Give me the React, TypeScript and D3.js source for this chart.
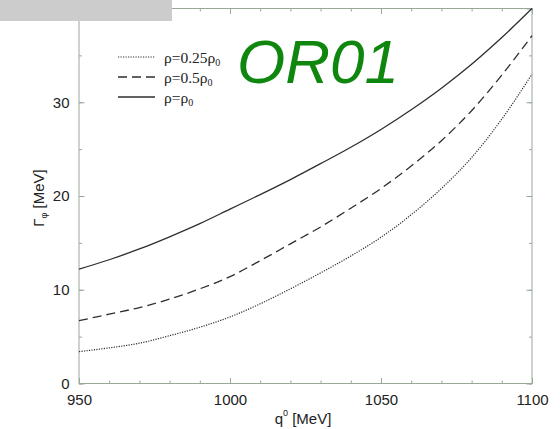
import * as d3 from "d3";
import { useEffect, useRef } from "react";

const qValues = [950, 960, 970, 980, 990, 1000, 1010, 1020, 1030, 1040, 1050, 1060, 1070, 1080, 1090, 1100];
const gammaRho025 = [3.4, 3.8, 4.3, 5.1, 6.0, 7.1, 8.5, 10.1, 11.8, 13.6, 15.6, 18.0, 20.8, 24.1, 28.2, 33.0];
const gammaRho05 = [6.7, 7.4, 8.1, 9.0, 10.1, 11.4, 13.1, 14.9, 16.7, 18.7, 20.8, 23.2, 25.9, 29.1, 32.9, 37.1];
const gammaRho0 = [12.2, 13.2, 14.35, 15.65, 17.05, 18.6, 20.15, 21.75, 23.45, 25.2, 27.1, 29.2, 31.5, 34.05, 36.9, 40.0];

const xMajor = [950, 1000, 1050, 1100];
const xMinor = d3.range(950, 1101, 10);
const yMajor = [0, 10, 20, 30, 40];
const yMinor = d3.range(0, 41, 5);

const legendLabels = [
  { main: "ρ=0.25ρ", sub: "0" },
  { main: "ρ=0.5ρ", sub: "0" },
  { main: "ρ=ρ", sub: "0" },
];
const dashStyles = ["1.2,1.3", "9,5", null];

const W = 560;
const H = 429;
const margin = { top: 8.5, bottom: 45.5, left: 79, right: 28 };
const axisColor = "#9aa89a";
const lineColor = "#2e2e2e";

const App = () => {
  const chartRef = useRef<SVGSVGElement | null>(null);

  useEffect(() => {
    const svg = d3.select(chartRef.current);
    svg.selectAll("*").remove();

    const x = d3.scaleLinear().domain([950, 1100]).range([margin.left, W - margin.right]);
    const y = d3.scaleLinear().domain([0, 40]).range([H - margin.bottom, margin.top]);
    const x0 = margin.left, x1 = W - margin.right;
    const y0 = H - margin.bottom, y1 = margin.top;

    const styleAxis = (g: any) => {
      g.select(".domain").remove();
      g.selectAll("line").attr("stroke", axisColor);
      g.selectAll("text")
        .attr("font-family", "'Liberation Sans', Arial, sans-serif")
        .attr("font-size", 15)
        .attr("fill", "#222");
    };

    // minor ticks, all four sides
    svg.append("g").attr("transform", `translate(0,${y0})`)
      .call(d3.axisBottom(x).tickValues(xMinor).tickSize(-3).tickFormat(() => ""))
      .call(styleAxis);
    svg.append("g").attr("transform", `translate(0,${y1})`)
      .call(d3.axisTop(x).tickValues(xMinor).tickSize(-3).tickFormat(() => ""))
      .call(styleAxis);
    svg.append("g").attr("transform", `translate(${x0},0)`)
      .call(d3.axisLeft(y).tickValues(yMinor).tickSize(-3).tickFormat(() => ""))
      .call(styleAxis);
    svg.append("g").attr("transform", `translate(${x1},0)`)
      .call(d3.axisRight(y).tickValues(yMinor).tickSize(-3).tickFormat(() => ""))
      .call(styleAxis);

    // major ticks + labels
    svg.append("g").attr("transform", `translate(0,${y0})`)
      .call(d3.axisBottom(x).tickValues(xMajor).tickSizeInner(-5.5).tickSizeOuter(0).tickPadding(11).tickFormat(d3.format("d")))
      .call(styleAxis);
    svg.append("g").attr("transform", `translate(0,${y1})`)
      .call(d3.axisTop(x).tickValues(xMajor).tickSize(-5.5).tickFormat(() => ""))
      .call(styleAxis);
    svg.append("g").attr("transform", `translate(${x0},0)`)
      .call(d3.axisLeft(y).tickValues(yMajor).tickSizeInner(-5.5).tickSizeOuter(0).tickPadding(9.5).tickFormat(d3.format("d")))
      .call(styleAxis);
    svg.append("g").attr("transform", `translate(${x1},0)`)
      .call(d3.axisRight(y).tickValues(yMajor).tickSize(-5.5).tickFormat(() => ""))
      .call(styleAxis);

    // frame
    svg.append("rect")
      .attr("x", x0).attr("y", y1)
      .attr("width", x1 - x0).attr("height", y0 - y1)
      .attr("fill", "none").attr("stroke", axisColor).attr("stroke-width", 1);

    // curves
    const series = [gammaRho025, gammaRho05, gammaRho0];
    const line = d3.line<number>()
      .x((_, i) => x(qValues[i]))
      .y((d) => y(d))
      .curve(d3.curveMonotoneX);

    series.forEach((s, i) => {
      const p = svg.append("path")
        .attr("d", line(s))
        .attr("fill", "none")
        .attr("stroke", lineColor)
        .attr("stroke-width", i === 0 ? 1.2 : 1.3);
      if (dashStyles[i]) p.attr("stroke-dasharray", dashStyles[i]);
    });

    // legend
    const lg = svg.append("g");
    legendLabels.forEach((l, i) => {
      const ly = 57 + i * 20;
      const ln = lg.append("line")
        .attr("x1", 118).attr("x2", 155)
        .attr("y1", ly).attr("y2", ly)
        .attr("stroke", lineColor)
        .attr("stroke-width", i === 0 ? 1.2 : 1.3);
      if (dashStyles[i]) ln.attr("stroke-dasharray", dashStyles[i]);
      const t = lg.append("text")
        .attr("x", 164).attr("y", ly + 5.5)
        .attr("font-family", "'Liberation Serif', 'Times New Roman', serif")
        .attr("font-size", 15.5)
        .attr("fill", "#222");
      t.append("tspan").text(l.main);
      t.append("tspan").attr("font-size", 10).attr("dy", 3).text(l.sub);
    });

    // axis titles
    const xt = svg.append("text")
      .attr("x", 303).attr("y", 424)
      .attr("text-anchor", "middle")
      .attr("font-family", "'Liberation Sans', Arial, sans-serif")
      .attr("font-size", 15)
      .attr("fill", "#222");
    xt.append("tspan").text("q");
    xt.append("tspan").attr("font-size", 9).attr("dy", -8).text("0");
    xt.append("tspan").attr("dy", 8).text(" [MeV]");

    const yt = svg.append("text")
      .attr("transform", "translate(44,198) rotate(-90)")
      .attr("text-anchor", "middle")
      .attr("font-family", "'Liberation Sans', Arial, sans-serif")
      .attr("font-size", 15)
      .attr("fill", "#222");
    yt.append("tspan").text("Γ");
    yt.append("tspan").attr("font-size", 9).attr("dy", 3).text("φ");
    yt.append("tspan").attr("dy", -3).text(" [MeV]");

    // watermark
    svg.append("text")
      .attr("x", 237).attr("y", 83)
      .attr("font-family", "'Liberation Sans', Arial, sans-serif")
      .attr("font-style", "italic")
      .attr("font-size", 62)
      .attr("fill", "#0f870f")
      .text("OR01");

    // gray box top-left
    svg.append("rect")
      .attr("x", 0).attr("y", 0)
      .attr("width", 172).attr("height", 21)
      .attr("fill", "#cccccc");
  }, []);

  return (
    <svg
      ref={chartRef}
      width={W}
      height={H}
      style={{ position: "absolute", left: 0, top: 0, background: "#fff" }}
    ></svg>
  );
};

export default App;
